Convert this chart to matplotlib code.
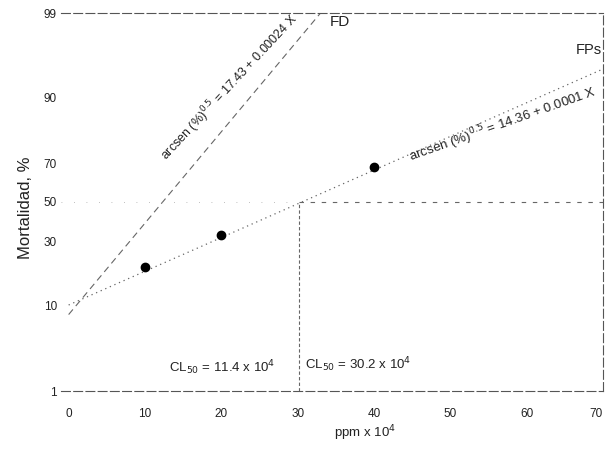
import numpy as np
import matplotlib
matplotlib.use("Agg")
import matplotlib.pyplot as plt

plt.rcParams['font.family'] = ['Liberation Sans', 'DejaVu Sans']

# --- data ---
x_ticks = [0, 10, 20, 30, 40, 50, 60, 70]
y_ticks = [1, 10, 30, 50, 70, 90, 99]
# positions of the tick values along the (non-linear) mortality axis, from bottom
y_tick_pos = [0, 86, 150, 189, 228, 294, 378]

obs_x = [10, 20, 40]          # ppm x 10^4
obs_y = [22, 33, 68]          # mortality %

fd_x = [0, 33]
fd_y = [9, 99]
fps_x = [0, 70]
fps_y = [10, 93]

cl50_fps = 30.2
cl50_fd = 11.4

# --- scale ---
def fwd(v):
    return np.interp(v, y_ticks, y_tick_pos)

def inv(p):
    return np.interp(p, y_tick_pos, y_ticks)

fig = plt.figure(figsize=(6.08, 4.57), dpi=100)
ax = fig.add_axes([61/608, 1-391/457, 542/608, 378/457])
ax.set_yscale('function', functions=(fwd, inv))
ax.set_xlim(-1, 70)
ax.set_ylim(1, 99)

txt = '#222222'
ln = '#666666'

# lines
ax.plot(fd_x, fd_y, linestyle=(0, (6, 4)), color=ln, lw=0.8)
ax.plot(fps_x, fps_y, linestyle=(0, (1, 3)), color=ln, lw=0.9)
ax.plot([cl50_fps, cl50_fps], [1, 50], linestyle=(0, (3, 2)), color=ln, lw=0.8)
ax.plot([cl50_fps, 70], [50, 50], linestyle=(0, (4, 6)), color=ln, lw=0.8)
ax.plot([-1, cl50_fps], [50, 50], linestyle=(0, (1, 14)), color='#aaaaaa', lw=0.6)

# points
ax.plot(obs_x, obs_y, 'o', color='black', markersize=6, zorder=5)

# ticks
ax.set_xticks(x_ticks)
ax.set_yticks(y_ticks)
ax.set_xticklabels([str(v) for v in x_ticks])
ax.set_yticklabels([str(v) for v in y_ticks])
ax.minorticks_off()
ax.tick_params(axis='both', length=0, labelsize=8.5, colors=txt)
ax.tick_params(axis='x', pad=12)
ax.tick_params(axis='y', pad=3)
lbls = ax.get_xticklabels()
lbls[-1].set_horizontalalignment('right')
lbls[-1].set_x(70.6)

# frame
for s in ['top', 'right', 'bottom']:
    ax.spines[s].set_linestyle((0, (8, 3)))
    ax.spines[s].set_color('#555555')
    ax.spines[s].set_linewidth(0.8)
ax.spines['left'].set_visible(False)

# labels
ax.text((25-61)/542, (391-208)/378, 'Mortalidad, %', transform=ax.transAxes,
        rotation=90, ha='center', va='center', fontsize=12, color=txt)
ax.text((365-61)/542, (391-433)/378, 'ppm x 10$^4$', transform=ax.transAxes,
        ha='center', va='center', fontsize=9.5, color=txt)

def at(px, py):
    return ((px-61)/542, (391-py)/378)

ax.text(*at(230, 88), 'arcsen (%)$^{0.5}$ = 17.43 + 0.00024 X', transform=ax.transAxes,
        rotation=47, ha='center', va='center', rotation_mode='anchor',
        fontsize=9, color=txt)
ax.text(*at(503, 125), 'arcsen (%)$^{0.5}$ = 14.36 + 0.0001 X', transform=ax.transAxes,
        rotation=19.5, ha='center', va='center', rotation_mode='anchor',
        fontsize=9.5, color=txt)
ax.text(*at(340, 22), 'FD', transform=ax.transAxes, ha='center', va='center',
        fontsize=11, color=txt)
ax.text(*at(602, 50), 'FPs', transform=ax.transAxes, ha='right', va='center',
        fontsize=10.5, color=txt)
ax.text(*at(222, 368), 'CL$_{50}$ = 11.4 x 10$^4$', transform=ax.transAxes,
        ha='center', va='center', fontsize=9.5, color=txt)
ax.text(*at(305, 365), 'CL$_{50}$ = 30.2 x 10$^4$', transform=ax.transAxes,
        ha='left', va='center', fontsize=9.5, color=txt)

fig.savefig('out.png', dpi=100)
